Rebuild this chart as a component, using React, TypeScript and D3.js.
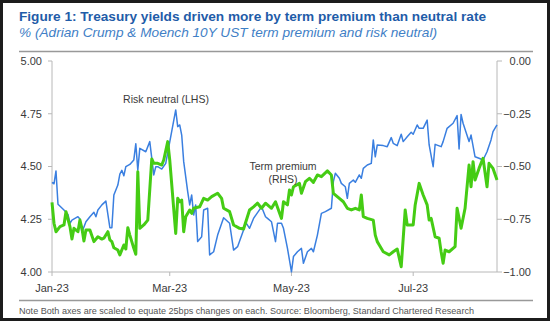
import React from "react";
import * as d3 from "d3";

const titleText = "Figure 1: Treasury yields driven more by term premium than neutral rate";
const subtitleText = "% (Adrian Crump & Moench 10Y UST term premium and risk neutral)";
const noteText = "Note Both axes are scaled to equate 25bps changes on each. Source: Bloomberg, Standard Chartered Research";

const leftTicks = [4.0, 4.25, 4.5, 4.75, 5.0];
const rightTicks = [-1.0, -0.75, -0.5, -0.25, 0.0];
const xTickDates = ["2023-01-01", "2023-03-01", "2023-05-01", "2023-07-01"];
const xDomain = ["2023-01-01", "2023-08-12"];

const riskNeutralDates = [
  "01-01","01-02","01-03","01-04","01-07","01-09","01-10","01-11","01-14","01-15","01-16","01-18","01-20","01-22","01-23","01-24","01-26","01-28","01-30","01-31",
  "02-01","02-03","02-04","02-05","02-06","02-07","02-09","02-11","02-12","02-13","02-14","02-17","02-19","02-21","02-22","02-23","02-25","02-27",
  "03-04","03-05","03-06","03-07","03-08","03-10","03-11","03-12","03-13","03-14","03-15","03-17","03-18","03-20","03-21","03-23","03-25","03-28","03-31",
  "04-02","04-04","04-07","04-08","04-10","04-12","04-16","04-18","04-19","04-21","04-23","04-24","04-26","04-27","04-29",
  "05-01","05-02","05-04","05-06","05-07","05-09","05-11","05-12","05-14","05-16","05-18","05-21","05-22","05-23","05-25","05-26","05-28","05-29","05-30",
  "06-01","06-02","06-04","06-05","06-06","06-08","06-10","06-11","06-12","06-13","06-16","06-18","06-20","06-21","06-23","06-25","06-26","06-28","06-30",
  "07-01","07-03","07-04","07-06","07-08","07-09","07-11","07-12","07-15","07-16","07-18","07-21","07-23","07-24","07-25","07-26","07-29","07-30",
  "08-01","08-03","08-05","08-07","08-09","08-10","08-12"
];
const riskNeutralValues = [
  4.425,4.418,4.479,4.321,4.294,4.273,4.231,4.246,4.262,4.251,4.188,4.238,4.262,4.283,4.262,4.294,4.318,4.336,4.210,4.210,
  4.365,4.412,4.464,4.482,4.456,4.499,4.510,4.531,4.608,4.483,4.586,4.570,4.618,4.460,4.499,4.499,4.488,4.515,
  4.768,4.689,4.697,4.649,4.523,4.381,4.318,4.365,4.270,4.318,4.144,4.167,4.294,4.302,4.081,4.096,4.175,4.257,4.231,
  4.104,4.120,4.199,4.236,4.207,4.254,4.309,4.262,4.254,4.238,4.144,4.231,4.231,4.207,4.112,
  4.001,4.073,4.096,4.112,4.041,4.096,4.112,4.096,4.175,4.278,4.286,4.302,4.428,4.468,4.444,4.420,4.404,4.349,4.420,
  4.436,4.425,4.460,4.444,4.491,4.507,4.515,4.626,4.546,4.602,4.599,4.594,4.637,4.610,4.599,4.653,4.618,4.641,4.662,
  4.653,4.697,4.681,4.681,4.720,4.602,4.499,4.605,4.594,4.618,4.681,4.705,4.741,4.583,4.747,4.705,4.618,4.649,
  4.546,4.539,4.531,4.570,4.626,4.665,4.697
];

const termPremiumDates = [
  "01-01","01-02","01-03","01-05","01-07","01-08","01-10","01-11","01-12","01-14","01-15","01-16","01-17","01-18","01-20","01-22","01-24","01-26","01-27","01-29","01-30","01-31",
  "02-01","02-03","02-04","02-06","02-07","02-08","02-09","02-11","02-12","02-13","02-14","02-16","02-18","02-20","02-21","02-23","02-25","02-26","02-28",
  "03-01","03-04","03-05","03-06","03-07","03-08","03-09","03-11","03-12","03-13","03-16","03-18","03-20","03-22","03-25","03-27","03-28","03-31",
  "04-02","04-05","04-07","04-10","04-12","04-14","04-16","04-18","04-19","04-21","04-23","04-26","04-27","04-29","04-30",
  "05-01","05-02","05-05","05-06","05-08","05-10","05-12","05-14","05-16","05-19","05-21","05-22","05-25","05-27","05-29","05-31",
  "06-02","06-04","06-05","06-06","06-08","06-11","06-12","06-13","06-14","06-16","06-19","06-21","06-23","06-25","06-27","06-28",
  "07-01","07-02","07-04","07-06","07-08","07-09","07-10","07-12","07-14","07-15","07-16","07-17","07-19","07-22","07-23","07-25","07-27","07-29","07-30","07-31",
  "08-01","08-03","08-05","08-07","08-08","08-10","08-12"
];
const termPremiumValues = [
  -0.670,-0.769,-0.809,-0.785,-0.777,-0.714,-0.785,-0.844,-0.793,-0.809,-0.754,-0.793,-0.853,-0.801,-0.801,-0.856,-0.833,-0.844,-0.840,-0.809,-0.848,-0.856,
  -0.885,-0.896,-0.919,-0.872,-0.891,-0.790,-0.825,-0.888,-0.916,-0.525,-0.793,-0.777,-0.754,-0.464,-0.485,-0.485,-0.493,-0.469,-0.382,
  -0.469,-0.817,-0.651,-0.667,-0.659,-0.809,-0.738,-0.706,-0.722,-0.698,-0.691,-0.651,-0.659,-0.643,-0.627,-0.651,-0.698,-0.714,
  -0.777,-0.793,-0.796,-0.706,-0.691,-0.674,-0.698,-0.674,-0.682,-0.698,-0.667,-0.746,-0.667,-0.682,-0.611,
  -0.635,-0.596,-0.580,-0.627,-0.572,-0.556,-0.575,-0.540,-0.548,-0.521,-0.540,-0.627,-0.651,-0.667,-0.698,-0.706,
  -0.698,-0.706,-0.635,-0.738,-0.746,-0.754,-0.825,-0.856,-0.872,-0.904,-0.919,-0.904,-0.891,-0.975,-0.706,-0.777,
  -0.777,-0.682,-0.580,-0.635,-0.682,-0.754,-0.746,-0.833,-0.840,-0.904,-0.959,-0.896,-0.904,-0.880,-0.698,-0.793,-0.698,-0.493,-0.596,-0.477,
  -0.564,-0.509,-0.461,-0.596,-0.485,-0.509,-0.564
];

const W = 550;
const H = 321;
const FONT = "Arial, 'Liberation Sans', sans-serif";

export default function App() {
  const parse = d3.timeParse("%Y-%m-%d");
  const x = d3.scaleTime().domain(xDomain.map((d) => parse(d) as Date)).range([52, 497]);
  const yL = d3.scaleLinear().domain([4, 5]).range([272, 61]);
  const yR = d3.scaleLinear().domain([-1, 0]).range([272, 61]);
  const fmt = d3.format(".2f");
  const xFmt = d3.timeFormat("%b-%y");

  const rn = riskNeutralDates.map((d, i) => ({ date: parse("2023-" + d) as Date, v: riskNeutralValues[i] }));
  const tp = termPremiumDates.map((d, i) => ({ date: parse("2023-" + d) as Date, v: termPremiumValues[i] }));

  const lineL = d3.line<{ date: Date; v: number }>().x((d) => x(d.date)).y((d) => yL(d.v));
  const lineR = d3.line<{ date: Date; v: number }>().x((d) => x(d.date)).y((d) => yR(d.v));

  const axisColor = "#b8b8b8";
  const labelColor = "#3a3a3a";

  return (
    <svg width={W} height={H} style={{ position: "absolute", left: 0, top: 0, background: "#fff" }} fontFamily={FONT}>
      <rect x={0} y={0} width={W} height={H} fill="#fff" />
      <text x={19} y={21} fontSize={13} fontWeight="bold" fill="#1f5ca8" textLength={467} lengthAdjust="spacingAndGlyphs">{titleText}</text>
      <text x={19} y={36.5} fontSize={13} fontStyle="italic" fill="#3f80c6" textLength={418} lengthAdjust="spacingAndGlyphs">{subtitleText}</text>
      <line x1={19} x2={533} y1={51.5} y2={51.5} stroke="#999" strokeWidth={1.5} />

      {/* left axis */}
      <line x1={52} x2={52} y1={yL(5)} y2={yL(4)} stroke={axisColor} strokeWidth={1} />
      {leftTicks.map((t) => (
        <g key={"l" + t}>
          <line x1={48} x2={52} y1={yL(t)} y2={yL(t)} stroke={axisColor} />
          <text x={42} y={yL(t)} dy="0.35em" textAnchor="end" fontSize={11} fill={labelColor}>{fmt(t)}</text>
        </g>
      ))}
      {/* right axis */}
      <line x1={497} x2={497} y1={yR(0)} y2={yR(-1)} stroke={axisColor} strokeWidth={1} />
      {rightTicks.map((t) => (
        <g key={"r" + t}>
          <line x1={497} x2={502} y1={yR(t)} y2={yR(t)} stroke={axisColor} />
          <text x={531} y={yR(t)} dy="0.35em" textAnchor="end" fontSize={11} fill={labelColor}>{fmt(t)}</text>
        </g>
      ))}
      {/* x axis */}
      <line x1={52} x2={497} y1={272} y2={272} stroke={axisColor} />
      {xTickDates.map((d) => {
        const dt = parse(d) as Date;
        return (
          <g key={d}>
            <line x1={x(dt)} x2={x(dt)} y1={272} y2={276} stroke={axisColor} />
            <text x={x(dt)} y={292} textAnchor="middle" fontSize={11} fill={labelColor}>{xFmt(dt)}</text>
          </g>
        );
      })}

      <path d={lineL(rn) || ""} fill="none" stroke="#3a7fe0" strokeWidth={1.5} strokeLinejoin="round" />
      <path d={lineR(tp) || ""} fill="none" stroke="#45cc14" strokeWidth={3} strokeLinejoin="round" />

      <text x={166} y={102.5} textAnchor="middle" fontSize={10.5} fill={labelColor}>Risk neutral (LHS)</text>
      <text x={283} y={169.5} textAnchor="middle" fontSize={10.5} fill={labelColor}>Term premium</text>
      <text x={283} y={182.5} textAnchor="middle" fontSize={10.5} fill={labelColor}>(RHS)</text>

      <line x1={19} x2={533} y1={300.5} y2={300.5} stroke="#999" strokeWidth={1.5} />
      <text x={19} y={314} fontSize={8.8} fill="#555" textLength={455} lengthAdjust="spacingAndGlyphs">{noteText}</text>

      <rect x={1.5} y={1.5} width={W - 3} height={H - 3} fill="none" stroke="#1c1c1c" strokeWidth={3} />
    </svg>
  );
}
